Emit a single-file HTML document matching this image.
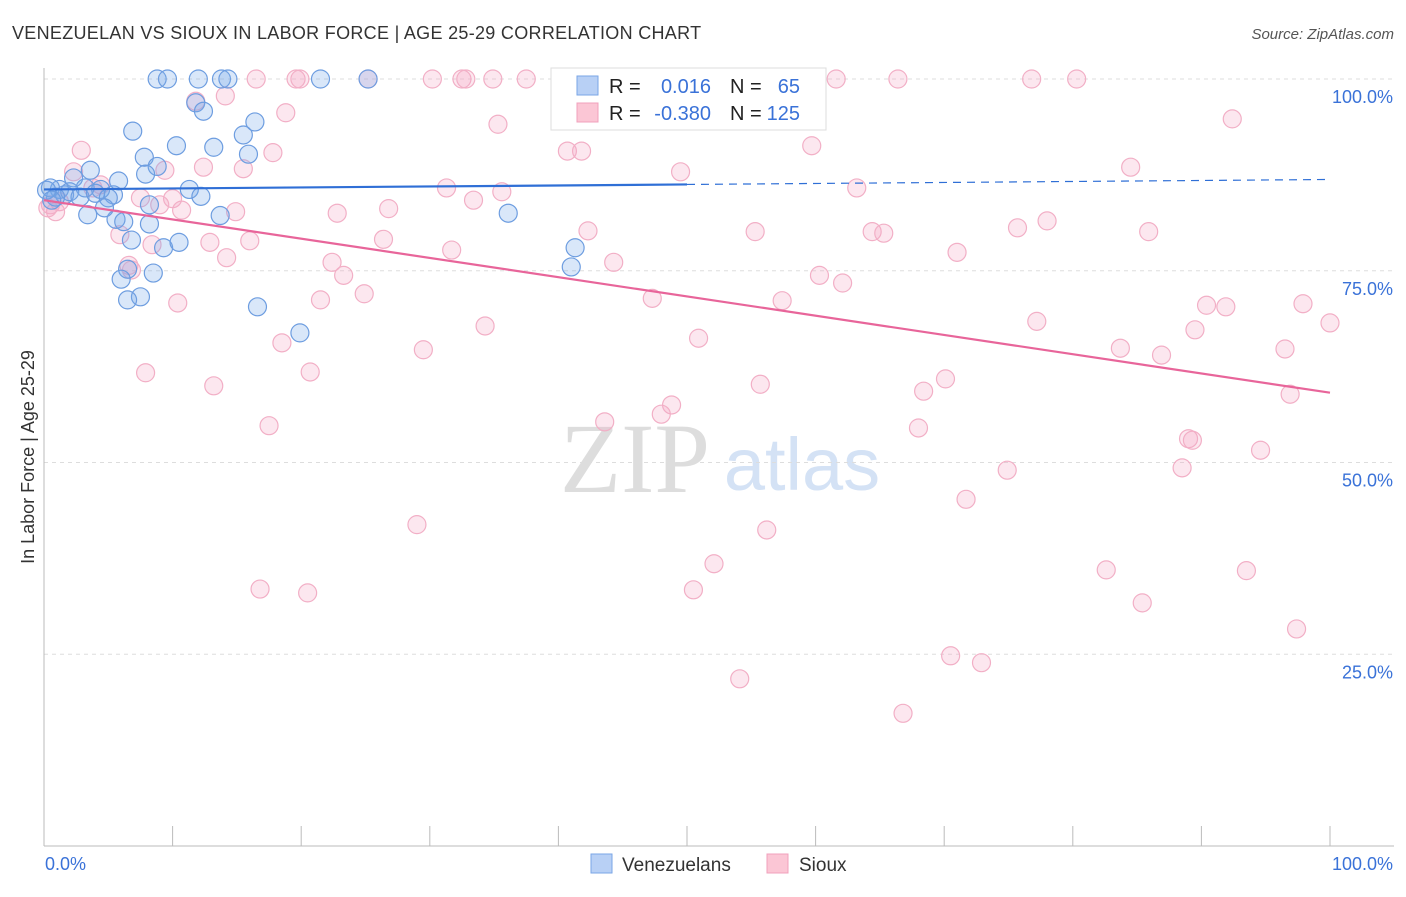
<!DOCTYPE html>
<html><head><meta charset="utf-8"><style>
body{margin:0;background:#fff;font-family:"Liberation Sans",sans-serif}
</style></head><body>
<svg id="chart" width="1406" height="892" xmlns="http://www.w3.org/2000/svg" font-family="Liberation Sans, sans-serif">
<text x="12" y="39" font-size="18" fill="#333" letter-spacing="0.3">VENEZUELAN VS SIOUX IN LABOR FORCE | AGE 25-29 CORRELATION CHART</text>
<text x="1394" y="39" font-size="15" fill="#555" text-anchor="end" font-style="italic">Source: ZipAtlas.com</text>
<g>
<text x="635" y="492" font-size="100" font-family="Liberation Serif, serif" fill="#ddd" text-anchor="middle">ZIP</text>
<text x="802" y="490" font-size="74" fill="#d4e2f5" text-anchor="middle">atlas</text>
</g>
<g id="grid"></g><g id="axes"></g><g id="pts"></g><g id="trend"></g>
<text transform="translate(34,457) rotate(-90)" font-size="18" fill="#333" text-anchor="middle">In Labor Force | Age 25-29</text>
<g>
<rect x="551" y="68" width="275" height="62" fill="#fff" stroke="#ddd"/>
<rect x="577" y="76" width="21" height="19" fill="#b8d0f5" stroke="#7aa6e6"/>
<rect x="577" y="103" width="21" height="19" fill="#fbc6d5" stroke="#f0a0bc"/>
<text x="609" y="93" font-size="20" fill="#222">R =</text>
<text x="711" y="93" font-size="20" fill="#3a72d8" text-anchor="end">0.016</text>
<text x="730" y="93" font-size="20" fill="#222">N =</text>
<text x="800" y="93" font-size="20" fill="#3a72d8" text-anchor="end">65</text>
<text x="609" y="120" font-size="20" fill="#222">R =</text>
<text x="711" y="120" font-size="20" fill="#3a72d8" text-anchor="end">-0.380</text>
<text x="730" y="120" font-size="20" fill="#222">N =</text>
<text x="800" y="120" font-size="20" fill="#3a72d8" text-anchor="end">125</text>
</g>
<g>
<rect x="591" y="854" width="21" height="19" fill="#b8d0f5" stroke="#7aa6e6"/>
<text x="622" y="871" font-size="19" fill="#333">Venezuelans</text>
<rect x="767" y="854" width="21" height="19" fill="#fbc6d5" stroke="#f0a0bc"/>
<text x="799" y="871" font-size="19" fill="#333">Sioux</text>
</g>
</svg>
<script>
const yTicks=[25,50,75,100];
const yTickLabels=["25.0%","50.0%","75.0%","100.0%"];
const xTickLabels=["0.0%","100.0%"];
const blueX=[8.8,9.6,12.0,13.8,14.3,21.5,25.2,11.8,12.4,6.9,15.5,16.4,10.3,13.2,7.8,15.9,8.8,7.9,3.6,5.8,2.3,11.3,12.2,5.4,4.4,3.2,1.2,0.5,1.6,2.0,0.9,2.8,4.0,5.0,8.2,3.4,5.6,4.7,6.2,8.2,13.7,36.1,6.8,9.3,10.5,41.3,41.0,8.5,6.5,6.0,7.5,6.5,16.6,19.9,0.2,0.6];
const blueY=[100,100,100,100,100,100,100,96.9,95.8,93.2,92.7,94.4,91.3,91.1,89.8,90.2,88.6,87.6,88.1,86.7,87.1,85.6,84.7,84.9,85.6,85.8,85.6,85.8,84.9,85.3,84.6,84.6,85.1,84.5,83.6,82.3,81.7,83.2,81.4,81.1,82.2,82.5,79.0,78.0,78.7,78.0,75.5,74.7,75.2,73.9,71.6,71.2,70.3,66.9,85.5,84.2];
const pinkX=[16.5,19.6,19.9,25.2,30.2,32.5,32.8,34.9,37.5,41.5,51.5,61.6,66.4,76.8,80.3,11.8,14.1,18.8,35.3,92.4,59.7,2.9,9.4,17.8,15.5,12.4,40.7,41.8,49.5,84.5,63.2,31.3,35.6,33.4,2.3,3.8,7.5,10.0,9.0,10.7,14.9,22.8,26.8,5.9,8.4,12.9,16.0,26.4,31.7,42.3,44.3,55.3,64.4,65.3,71.0,75.7,78.0,85.9,6.6,6.8,14.2,22.4,23.3,24.9,21.5,10.4,34.3,47.3,57.4,60.3,62.1,90.4,91.9,97.9,100,50.9,77.2,89.5,83.7,86.9,96.5,18.5,29.5,7.9,13.2,20.7,55.7,70.1,68.4,96.9,17.5,43.6,48.8,48.0,68.0,89.0,89.3,94.6,74.9,88.5,71.7,29.0,56.2,52.1,82.6,93.5,16.8,20.5,50.5,85.4,97.4,70.5,72.9,54.1,66.8,0.5,1.2,4.4,0.9,0.3];
const pinkY=[100,100,100,100,100,100,100,100,100,100,100,100,100,100,100,97.1,97.8,95.6,94.1,94.8,91.3,90.7,88.1,90.4,88.3,88.5,90.6,90.6,87.9,88.5,85.8,85.8,85.3,84.2,87.9,85.8,84.5,84.4,83.6,82.9,82.7,82.5,83.1,79.7,78.4,78.7,78.9,79.1,77.7,80.2,76.1,80.1,80.1,79.9,77.4,80.6,81.5,80.1,75.7,75.1,76.7,76.1,74.4,72.0,71.2,70.8,67.8,71.4,71.1,74.4,73.4,70.5,70.3,70.7,68.2,66.2,68.4,67.3,64.9,64.0,64.8,65.6,64.7,61.7,60.0,61.8,60.2,60.9,59.3,58.9,54.8,55.3,57.5,56.3,54.5,53.1,52.9,51.6,49.0,49.3,45.2,41.9,41.2,36.8,36.0,35.9,33.5,33.0,33.4,31.7,28.3,24.8,23.9,21.8,17.3,83.6,84.0,86.2,82.7,83.2];
const blueTrend=[85.6,86.9];
const pinkTrend=[84.2,59.1];
const NS="http://www.w3.org/2000/svg";
const X0=44,X1=1330,Y0=846,Y100=79;
function sx(v){return X0+(X1-X0)*v/100;}
function sy(v){return Y0-(Y0-Y100)*v/100;}
function mk(tag,attrs,parent){const e=document.createElementNS(NS,tag);for(const k in attrs)e.setAttribute(k,attrs[k]);document.getElementById(parent).appendChild(e);return e;}
yTicks.forEach((t,i)=>{
 const g=mk('line',{x1:X0,x2:1394,y1:sy(t),y2:sy(t),stroke:'#ddd','stroke-dasharray':'4,4'},'grid');
 
 
 const l=mk('text',{x:1393,y:sy(t)+24,'font-size':18,fill:'#3a72d8','text-anchor':'end'},'grid');
 l.textContent=yTickLabels[i];
 
 
});
const ax=mk('line',{x1:X0,x2:1394,y1:Y0,y2:Y0,stroke:'#bbb'},'axes');


const ay=mk('line',{x1:X0,x2:X0,y1:68,y2:Y0,stroke:'#bbb'},'axes');


for(let i=1;i<=10;i++){
 const t=mk('line',{x1:sx(i*10),x2:sx(i*10),y1:Y0,y2:Y0-20,stroke:'#bbb'},'axes');
 
 
}
[[0,'start',45],[100,'end',1393]].forEach((d,i)=>{
 const l=mk('text',{x:d[2],y:870,'font-size':18,fill:'#3a72d8','text-anchor':d[1]},'axes');
 l.textContent=xTickLabels[i];
 
 
});
pinkX.forEach((x,i)=>{
 const c=mk('circle',{cx:sx(x),cy:sy(pinkY[i]),r:9,fill:'rgba(246,170,196,0.28)',stroke:'#f2afc6','stroke-width':1.2},'pts');
 
 
});
blueX.forEach((x,i)=>{
 const c=mk('circle',{cx:sx(x),cy:sy(blueY[i]),r:9,fill:'rgba(120,168,232,0.28)',stroke:'#6d9de0','stroke-width':1.2},'pts');
 
 
});
const bm=blueTrend[0]+(blueTrend[1]-blueTrend[0])*0.5;
const b1=mk('line',{x1:sx(0),y1:sy(blueTrend[0]),x2:sx(50),y2:sy(bm),stroke:'#2f6fd6','stroke-width':2.2},'trend');


const b2=mk('line',{x1:sx(50),y1:sy(bm),x2:sx(100),y2:sy(blueTrend[1]),stroke:'#2f6fd6','stroke-width':1.2,'stroke-dasharray':'8,6'},'trend');


const p1=mk('line',{x1:sx(0),y1:sy(pinkTrend[0]),x2:sx(100),y2:sy(pinkTrend[1]),stroke:'#e8659a','stroke-width':2.2},'trend');


</script>
</body></html>
